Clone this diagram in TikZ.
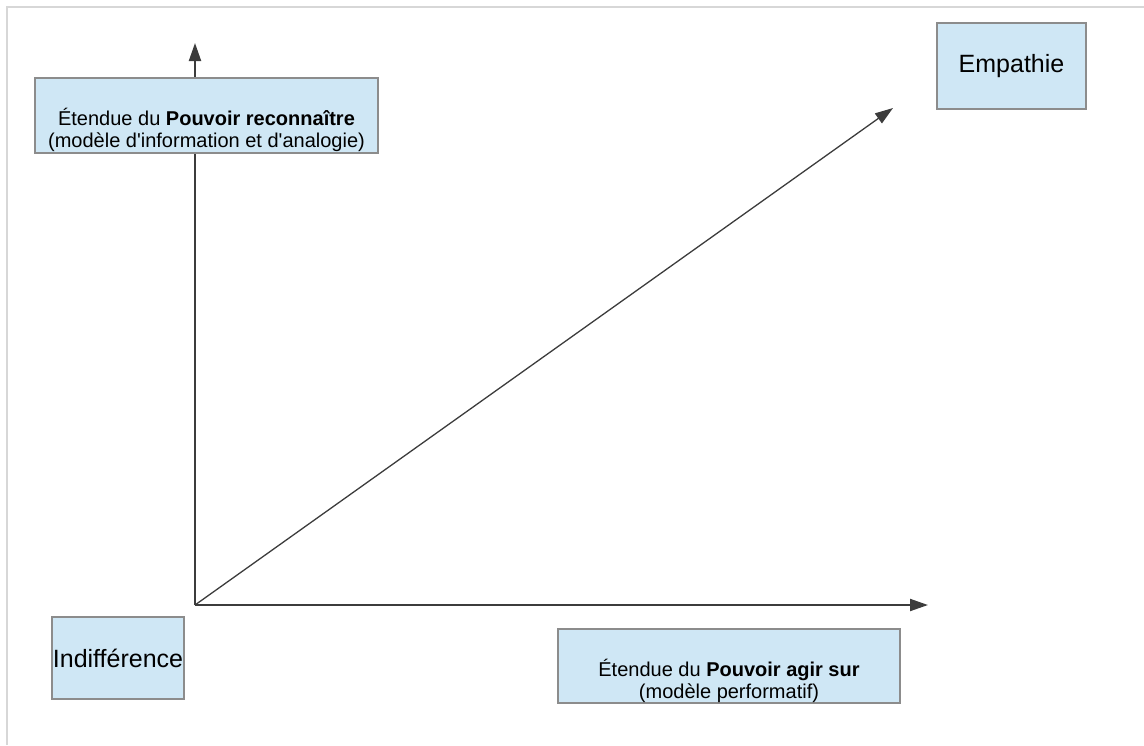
\documentclass[tikz,border=0pt]{standalone}
\usepackage{fontspec}
\setmainfont{Liberation Sans}
\usetikzlibrary{arrows.meta}
\definecolor{boxfill}{RGB}{207,231,245}
\definecolor{boxline}{RGB}{140,140,140}
\definecolor{axisline}{RGB}{60,60,60}
\definecolor{pageline}{RGB}{215,215,215}
\begin{document}
\begin{tikzpicture}
        [x=1pt, y=-1pt,
         boxstyle/.style={draw=boxline, line width=1.3pt, fill=boxfill, inner sep=0pt, align=center},
         smalltext/.style={font=\fontsize{20}{22}\selectfont},
         bigtext/.style={font=\fontsize{25}{28}\selectfont},
         axisstyle/.style={draw=axisline, line width=2pt, -{Triangle[length=18pt,width=12pt]}}]
        \useasboundingbox (0,0) rectangle (1144,745);
        % page frame
        \draw [pageline, line width=1.5pt] (7,745) -- (7,7) -- (1144,7);
        % axes
        \coordinate (orig) at (195,605);
        \coordinate (ytip) at (195,43);
        \coordinate (xtip) at (928,605);
        \coordinate (dtip) at (893,108);
        \draw [axisstyle] (orig) -- (ytip);
        \draw [axisstyle] (orig) -- (xtip);
        \draw [axisstyle, line width=1.3pt] (orig) -- (dtip);
        % labels
        \node [boxstyle, smalltext, minimum width=343pt, minimum height=75pt] (recon) at (206.5,115.5)
            {\raisebox{-16pt}[\height][\depth]{\begin{tabular}{@{}c@{}}
                Étendue du \textbf{Pouvoir reconnaître} \\
                (modèle d\textquotesingle information et d\textquotesingle analogie)
             \end{tabular}}};
        \node [boxstyle, bigtext, minimum width=149pt, minimum height=86pt] (empathie) at (1011.5,66) {Empathie};
        \node [boxstyle, bigtext, minimum width=132pt, minimum height=82pt] (indiff) at (118,658) {Indifférence};
        \node [boxstyle, smalltext, minimum width=342pt, minimum height=74pt] (agir) at (729,666)
            {\raisebox{-16pt}[\height][\depth]{\begin{tabular}{@{}c@{}}
                Étendue du \textbf{Pouvoir agir sur} \\
                (modèle performatif)
             \end{tabular}}};
    \end{tikzpicture}
\end{document}
